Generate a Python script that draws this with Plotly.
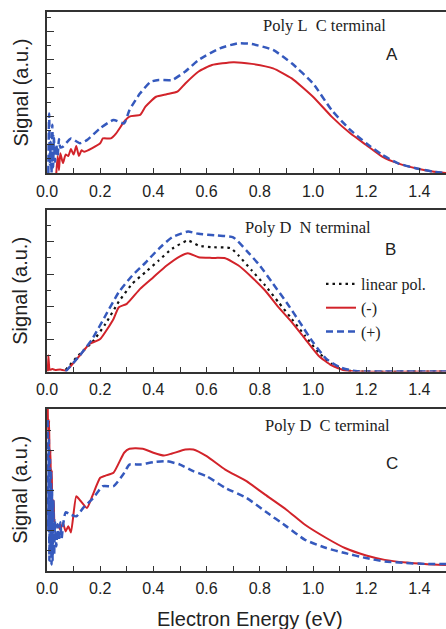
import plotly.graph_objects as go

# ---------------- data ----------------
# Panel A : Poly L  C terminal
xA_red = [0.035, 0.04, 0.045, 0.05, 0.06, 0.07, 0.08, 0.09, 0.10, 0.11, 0.12, 0.13, 0.14, 0.20, 0.21,
          0.24, 0.26, 0.29, 0.31, 0.35, 0.37, 0.41, 0.45, 0.49, 0.52, 0.57, 0.62, 0.70, 0.77, 0.85,
          0.92, 1.00, 1.07, 1.14, 1.20, 1.26, 1.32, 1.39, 1.45, 1.50]
yA_red = [0.0, 0.6, 0.1, 0.7, 0.35, 0.65, 0.6, 0.85, 0.65, 0.95, 0.6, 0.8, 0.75, 1.05, 1.22,
          1.22, 1.40, 1.81, 1.99, 2.05, 2.34, 2.69, 2.78, 2.87, 3.16, 3.58, 3.81, 3.91, 3.85, 3.69,
          3.34, 2.69, 1.99, 1.40, 0.99, 0.58, 0.34, 0.16, 0.05, 0.0]
xA_blue = [0.005, 0.008, 0.011, 0.014, 0.017, 0.02, 0.023, 0.026, 0.03, 0.035, 0.04, 0.045, 0.05,
           0.06, 0.09, 0.124, 0.15, 0.20, 0.25, 0.29, 0.31, 0.35, 0.39, 0.42, 0.47, 0.52, 0.57,
           0.65, 0.72, 0.77, 0.85, 0.92, 1.00, 1.07, 1.14, 1.20, 1.26, 1.32, 1.39, 1.45, 1.50]
yA_blue = [0.0, 2.1, 0.3, 1.1, 0.0, 1.7, 0.2, 1.3, 0.4, 1.0, 0.6, 1.2, 0.9,
           0.93, 1.22, 1.05, 1.16, 1.58, 1.87, 1.75, 2.22, 2.81, 3.22, 3.28, 3.28, 3.58, 3.99,
           4.40, 4.58, 4.55, 4.34, 3.87, 3.16, 2.22, 1.52, 1.05, 0.64, 0.34, 0.16, 0.05, 0.0]

# Panel B : Poly D  N terminal
xB_lin = [0.07, 0.124, 0.17, 0.22, 0.27, 0.32, 0.37, 0.42, 0.47, 0.53, 0.57, 0.62, 0.69, 0.72,
          0.77, 0.82, 0.87, 0.92, 0.97, 1.02, 1.07, 1.12, 1.17, 1.50]
yB_lin = [0.1, 1.1, 1.8, 2.94, 4.3, 5.4, 6.12, 6.84, 7.56, 8.07, 7.76, 7.66, 7.6, 7.15,
          6.22, 5.3, 4.27, 3.24, 2.2, 1.19, 0.47, 0.1, 0.0, 0.0]
xB_red = [0.003, 0.005, 0.008, 0.01, 0.02, 0.03, 0.05, 0.07, 0.086, 0.124, 0.16, 0.20, 0.25, 0.27,
          0.30, 0.35, 0.40, 0.45, 0.50, 0.53, 0.57, 0.62, 0.67, 0.72, 0.77, 0.82, 0.87, 0.92, 0.97,
          1.02, 1.07, 1.12, 1.17, 1.50]
yB_red = [0.0, 1.0, 0.3, 0.1, 0.15, 0.1, 0.12, 0.05, 0.27, 1.0, 1.7, 2.0, 3.24, 3.96,
          4.17, 5.09, 5.81, 6.53, 7.1, 7.29, 7.04, 7.0, 6.98, 6.53, 5.81, 4.99, 3.96, 3.04, 2.01,
          0.99, 0.37, 0.06, 0.0, 0.0]
xB_blue = [0.07, 0.124, 0.17, 0.22, 0.27, 0.32, 0.37, 0.42, 0.47, 0.53, 0.57, 0.64, 0.70, 0.75,
           0.80, 0.85, 0.90, 0.95, 1.00, 1.05, 1.10, 1.15, 1.20, 1.50]
yB_blue = [0.0, 1.0, 2.0, 3.45, 4.89, 5.9, 6.7, 7.56, 8.27, 8.62, 8.48, 8.38, 8.27, 7.45,
           6.53, 5.4, 4.27, 3.04, 1.8, 0.78, 0.27, 0.05, 0.0, 0.0]

# Panel C : Poly D  C terminal
xC_red = [0.002, 0.005, 0.008, 0.01, 0.013, 0.015, 0.018, 0.02, 0.025, 0.03, 0.04, 0.05, 0.06,
          0.07, 0.08, 0.09, 0.11, 0.124, 0.15, 0.17, 0.20, 0.22, 0.25, 0.29, 0.31, 0.36, 0.40,
          0.44, 0.47, 0.52, 0.55, 0.60, 0.67, 0.75, 0.82, 0.90, 0.97, 1.05, 1.12, 1.20, 1.27,
          1.35, 1.42, 1.50]
yC_red = [9.0, 6.5, 7.5, 5.0, 6.0, 4.0, 5.0, 3.0, 3.5, 2.2, 2.28, 2.03, 2.37,
          1.95, 2.2, 1.9, 3.7, 3.5, 3.12, 3.7, 4.62, 4.73, 4.87, 5.87, 6.07, 6.07, 5.87,
          5.73, 5.83, 6.03, 6.03, 5.7, 5.03, 4.45, 3.78, 3.03, 2.28, 1.62, 1.12, 0.75, 0.53,
          0.4, 0.33, 0.28]
xC_blue = [0.003, 0.005, 0.007, 0.009, 0.011, 0.013, 0.015, 0.017, 0.019, 0.021, 0.024, 0.027,
           0.03, 0.035, 0.04, 0.045, 0.05, 0.055, 0.06, 0.07, 0.09, 0.11, 0.136, 0.174, 0.21,
           0.25, 0.286, 0.31, 0.35, 0.40, 0.45, 0.50, 0.55, 0.60, 0.67, 0.75, 0.82, 0.90, 0.97,
           1.05, 1.12, 1.20, 1.27, 1.35, 1.42, 1.50]
yC_blue = [7.5, 2.0, 6.5, 0.5, 5.5, 1.0, 5.0, 0.3, 4.0, 0.5, 3.5, 0.8,
           2.5, 1.2, 2.3, 1.5, 2.4, 1.6, 2.2, 2.9, 2.78, 2.7, 3.12, 3.62, 4.2,
           4.2, 4.78, 5.28, 5.28, 5.4, 5.45, 5.28, 4.95, 4.7, 4.12, 3.62, 2.95, 2.2, 1.53,
           1.12, 0.87, 0.62, 0.45, 0.37, 0.33, 0.32]

panel_titles = ["Poly L\u00a0 C terminal", "Poly D\u00a0 N terminal", "Poly D\u00a0 C terminal"]
panel_letters = ["A", "B", "C"]
legend_names = ["linear pol.", "(-)", "(+)"]
x_ticks = [0.0, 0.2, 0.4, 0.6, 0.8, 1.0, 1.2, 1.4]

# ---------------- styling ----------------
W, H = 446, 629
L = 47
RED = "#d2232a"
BLUE = "#3559bd"
AXC = "#333333"
SANS = "Liberation Sans, Arial, sans-serif"
SERIF = "Liberation Serif, Times New Roman, serif"

# pixel boxes (top, bottom) of the three panels
boxes = [(12, 173), (210, 371.5), (409, 570.5)]
yranges = [[0, 5.68], [0, 9.95], [0, 8.05]]

def py2paper(p):
    return (H - p) / H

def px2paper(p):
    return (p - L) / (W - L)

fig = go.Figure()

red_style = dict(color=RED, width=2, shape="spline", smoothing=0.5)
blue_style = dict(color=BLUE, width=2.5, dash="7px,4px", shape="spline", smoothing=0.5)

# Panel A
fig.add_trace(go.Scatter(x=xA_red, y=yA_red, mode="lines", line=red_style, showlegend=False,
                         xaxis="x", yaxis="y"))
fig.add_trace(go.Scatter(x=xA_blue, y=yA_blue, mode="lines", line=blue_style, showlegend=False,
                         xaxis="x", yaxis="y"))
# Panel B (with legend)
fig.add_trace(go.Scatter(x=xB_lin, y=yB_lin, mode="lines", name=legend_names[0],
                         line=dict(color="#111111", width=2.2, dash="2.5px,4px", shape="spline", smoothing=0.5),
                         xaxis="x2", yaxis="y2"))
fig.add_trace(go.Scatter(x=xB_red, y=yB_red, mode="lines", name=legend_names[1], line=red_style,
                         xaxis="x2", yaxis="y2"))
fig.add_trace(go.Scatter(x=xB_blue, y=yB_blue, mode="lines", name=legend_names[2], line=blue_style,
                         xaxis="x2", yaxis="y2"))
# Panel C
fig.add_trace(go.Scatter(x=xC_red, y=yC_red, mode="lines", line=red_style, showlegend=False,
                         xaxis="x3", yaxis="y3"))
fig.add_trace(go.Scatter(x=xC_blue, y=yC_blue, mode="lines", line=blue_style, showlegend=False,
                         xaxis="x3", yaxis="y3"))

layout = dict(
    width=W, height=H,
    margin=dict(l=L, r=0, t=0, b=0),
    paper_bgcolor="white", plot_bgcolor="white",
    showlegend=True,
    legend=dict(x=px2paper(321), y=py2paper(267), xanchor="left", yanchor="top",
                bgcolor="rgba(0,0,0,0)", font=dict(family=SERIF, size=16, color="#222"),
                tracegroupgap=0, itemwidth=30),
)

annotations = []
for i, (top, bot) in enumerate(boxes):
    sfx = "" if i == 0 else str(i + 1)
    layout["xaxis" + sfx] = dict(
        domain=[0, 1], range=[0, 1.5], anchor="y" + sfx,
        tickmode="array", tickvals=x_ticks, ticktext=[f"{v:.1f}" for v in x_ticks],
        ticks="inside", ticklen=5, tickwidth=1.2, tickcolor=AXC,
        minor=dict(tickmode="linear", tick0=0, dtick=0.1, ticks="inside", ticklen=5,
                   tickwidth=1.2, tickcolor=AXC),
        showline=True, linecolor=AXC, linewidth=1.5, mirror=True,
        showgrid=False, zeroline=False, ticklabelstandoff=3,
        tickfont=dict(family=SANS, size=16, color="#222"),
    )
    layout["yaxis" + sfx] = dict(
        domain=[py2paper(bot), py2paper(top)], range=yranges[i], anchor="x" + sfx,
        tickmode="linear", tick0=0, dtick=(1 if i == 0 else 2),
        ticks="inside", ticklen=7, tickwidth=1.2, tickcolor=AXC,
        minor=dict(tickmode="linear", tick0=0, dtick=(0.5 if i == 0 else 1), ticks="inside",
                   ticklen=4, tickwidth=1.2, tickcolor=AXC),
        showticklabels=False,
        showline=True, linecolor=AXC, linewidth=1.5, mirror=False,
        showgrid=False, zeroline=False,
    )
    # y-axis title
    annotations.append(dict(text="Signal (a.u.)", xref="paper", yref="paper",
                            x=px2paper(20), y=py2paper((top + bot) / 2),
                            xanchor="center", yanchor="middle", textangle=-90, showarrow=False,
                            font=dict(family=SANS, size=20, color="#222")))

title_pos = [(324, 26), (308, 227), (327, 425)]
letter_pos = [(392, 55), (390, 250), (392, 463)]
for i in range(3):
    annotations.append(dict(text=panel_titles[i], xref="paper", yref="paper",
                            x=px2paper(title_pos[i][0]), y=py2paper(title_pos[i][1]),
                            xanchor="center", yanchor="middle", showarrow=False,
                            font=dict(family=SERIF, size=16.5, color="#222")))
    annotations.append(dict(text=panel_letters[i], xref="paper", yref="paper",
                            x=px2paper(letter_pos[i][0]), y=py2paper(letter_pos[i][1]),
                            xanchor="center", yanchor="middle", showarrow=False,
                            font=dict(family=SANS, size=17, color="#222")))

annotations.append(dict(text="Electron Energy (eV)", xref="paper", yref="paper",
                        x=px2paper(250), y=py2paper(619), xanchor="center", yanchor="middle",
                        showarrow=False, font=dict(family=SANS, size=20, color="#222")))
layout["annotations"] = annotations

fig.update_layout(**layout)
fig.write_html("out.html")
